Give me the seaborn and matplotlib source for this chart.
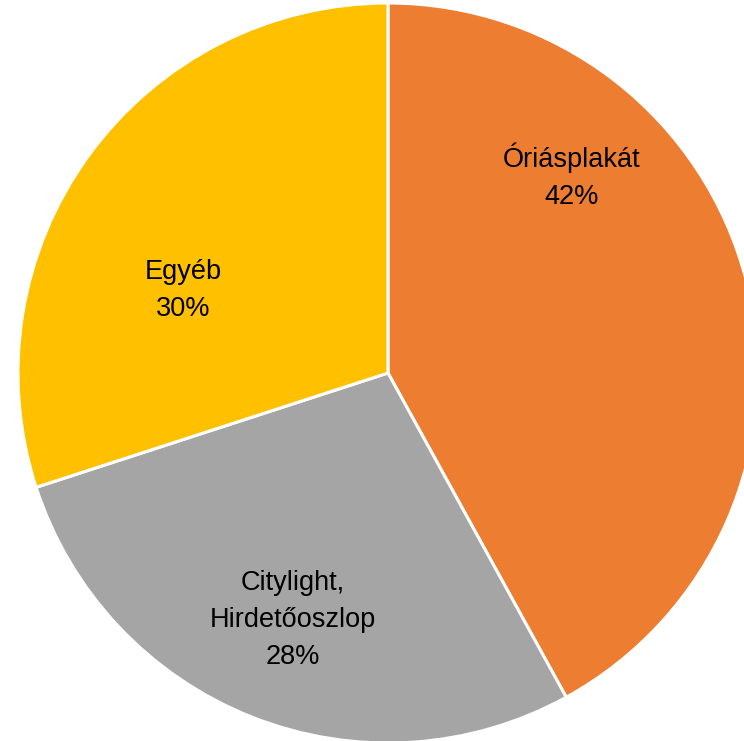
import matplotlib
matplotlib.use("Agg")
import matplotlib.pyplot as plt
import seaborn as sns

# ── Data ──────────────────────────────────────────────────────────────────────
categories = ["Óriásplakát", "Citylight,\nHirdetőoszlop", "Egyéb"]
shares = [42, 28, 30]
colors = ["#ED7D31", "#A5A5A5", "#FFC000"]
# label centres (data units, pie radius = 1)
label_pos = [(0.497, 0.532), (-0.257, -0.668), (-0.554, 0.224)]

sns.set_theme(style="white")
plt.rcParams["font.family"] = ["Liberation Sans", "DejaVu Sans"]

W, H = 744, 741
CX, CY, R = 388, 373, 370  # pixel centre and radius of the pie

fig = plt.figure(figsize=(W / 100, H / 100), dpi=100)
ax = fig.add_axes([0, 0, 1, 1])

ax.pie(shares, colors=colors, startangle=90, counterclock=False,
       radius=1.0, wedgeprops=dict(edgecolor="white", linewidth=2.2))

for name, val, (x, y) in zip(categories, shares, label_pos):
    ax.text(x, y, f"{name}\n{val}%", ha="center", va="center",
            fontsize=19.5, color="black", linespacing=1.55)

ax.set_xlim(-CX / R, (W - CX) / R)
ax.set_ylim(-(H - CY) / R, CY / R)
ax.set_aspect("auto")
ax.axis("off")

fig.savefig("out.png", dpi=100)
